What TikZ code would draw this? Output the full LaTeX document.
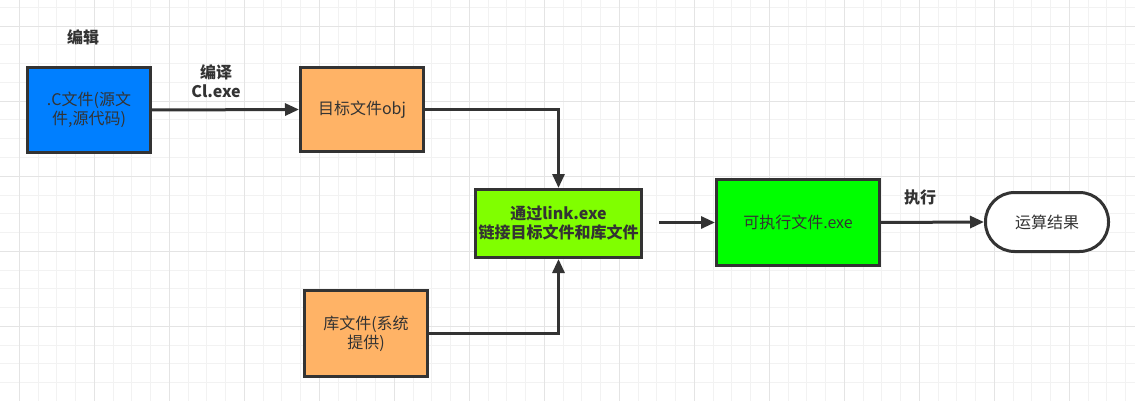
\documentclass[tikz,border=0pt]{standalone}
\usepackage{fontspec}
\setmainfont{Noto Sans CJK SC}
\usetikzlibrary{arrows.meta}
\definecolor{ink}{HTML}{333333}
\definecolor{gridminor}{HTML}{F2F2F2}
\definecolor{gridmajor}{HTML}{E4E4E4}
\definecolor{cblue}{HTML}{007FFF}
\definecolor{corange}{HTML}{FFB366}
\definecolor{clime}{HTML}{80FF00}
\definecolor{cgreen}{HTML}{00FF00}
\begin{document}
\begin{tikzpicture}[x=1pt,y=-1pt,
  box/.style={draw=ink, line width=3pt, text=ink, align=center, inner sep=0pt,
    font=\fontsize{16}{19}\selectfont},
  conn/.style={draw=ink, line width=3pt, -{Triangle[length=14pt,width=12pt]}},
  lbl/.style={text=ink, align=center, inner sep=0pt, font=\bfseries\fontsize{16}{19}\selectfont},
  gminor/.style={draw=gridminor, line width=1pt},
  gmajor/.style={draw=gridmajor, line width=1pt}]
\useasboundingbox (0,0) rectangle (1135,401);
\fill[white] (0,0) rectangle (1135,401);
% grid
\foreach \i in {0,...,60} { \draw[gminor] ({19.3+18.75*\i},0) -- ({19.3+18.75*\i},401); }
\foreach \j in {0,...,21} { \draw[gminor] (0,{7.5+18.75*\j}) -- (1135,{7.5+18.75*\j}); }
\foreach \i in {0,...,15} { \draw[gmajor] ({19.3+75*\i},0) -- ({19.3+75*\i},401); }
\foreach \j in {0,...,5} { \draw[gmajor] (0,{26.25+75*\j}) -- (1135,{26.25+75*\j}); }
% nodes
\node[box, fill=cblue, minimum width=123pt, minimum height=85pt] (src) at (89,110) {.C文件(源文\\件,源代码)};
\node[box, fill=corange, minimum width=123pt, minimum height=84pt] (obj) at (362,109.5) {目标文件obj};
\node[box, fill=clime, minimum width=166pt, minimum height=68pt, font=\bfseries\fontsize{16}{19}\selectfont] (link) at (558.5,223.5) {通过link.exe\\链接目标文件和库文件};
\node[box, fill=cgreen, minimum width=163pt, minimum height=86pt] (exe) at (798,222.5) {可执行文件.exe};
\node[box, fill=white, minimum width=123pt, minimum height=59pt, rounded corners=29pt] (res) at (1047,222) {运算结果};
\node[box, fill=corange, minimum width=123pt, minimum height=86pt] (lib) at (366,333.5) {库文件(系统\\提供)};
% labels
\node[lbl] (edit) at (83,37) {编辑};
\node[lbl] (compile) at (216,81) {编译\\Cl.exe};
\node[lbl] (run) at (920,197) {执行};
\coordinate (linkout) at (659,222.5);
% connectors
\draw[conn] (src.east) -- (obj.west);
\draw[conn] (obj.east) -| (link.north);
\draw[conn] (lib.east) -| (link.south);
\draw[conn] (linkout) -- (exe.west);
\draw[conn] (exe.east) -- (res.west);
\end{tikzpicture}
\end{document}
